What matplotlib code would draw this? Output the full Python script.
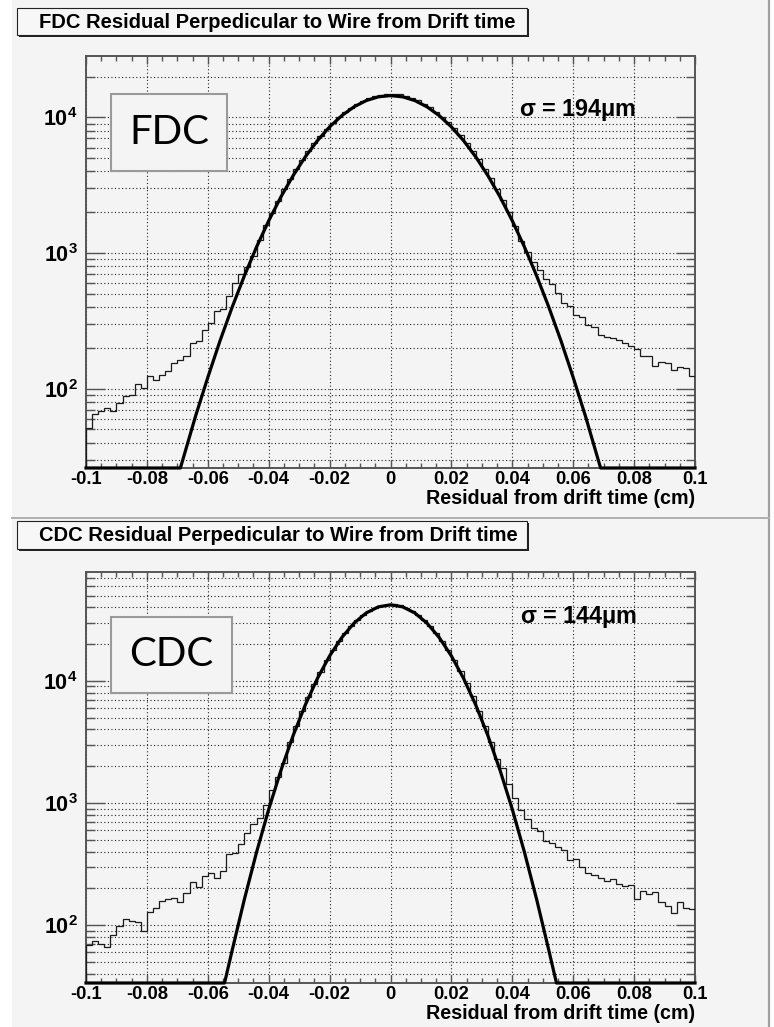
import matplotlib
matplotlib.use('Agg')
import matplotlib.pyplot as plt
from matplotlib.patches import Rectangle
from matplotlib.lines import Line2D
from matplotlib.ticker import LogLocator, MultipleLocator, NullFormatter, FuncFormatter
import numpy as np

plt.rcParams['font.family'] = ['Liberation Sans', 'DejaVu Sans']
plt.rcParams['mathtext.fontset'] = 'custom'
plt.rcParams['mathtext.rm'] = 'Liberation Sans:bold'
plt.rcParams['mathtext.bf'] = 'Liberation Sans:bold'
plt.rcParams['mathtext.it'] = 'Liberation Sans:bold'

######## DATA ########

x_ticks = [-0.1, -0.08, -0.06, -0.04, -0.02, 0.0, 0.02, 0.04, 0.06, 0.08, 0.1]
x_tick_labels = ['-0.1', '-0.08', '-0.06', '-0.04', '-0.02', '0',
                 '0.02', '0.04', '0.06', '0.08', '0.1']
x_label = 'Residual from drift time (cm)'

# 100 bins from -0.1 to 0.1 cm
fdc_counts = [
    51, 65, 68, 72, 68, 79, 88, 90, 108, 102,
    123, 116, 126, 134, 154, 163, 174, 218, 226, 271,
    303, 372, 385, 480, 600, 703, 786, 959, 1251, 1600,
    1990, 2430, 2950, 3520, 4170, 4880, 5650, 6480, 7360, 8250,
    9150, 10050, 10950, 11800, 12600, 13300, 13900, 14400, 14750, 14900,
    14950, 14800, 14450, 13950, 13350, 12650, 11850, 11000, 10100, 9200,
    8300, 7400, 6520, 5700, 4920, 4200, 3560, 2980, 2470, 2020,
    1596, 1237, 1014, 855, 751, 640, 590, 510, 430, 410,
    352, 336, 297, 284, 249, 242, 235, 229, 216, 208,
    196, 175, 175, 148, 156, 154, 137, 145, 142, 125]

fdc_fit_x = [-0.1, -0.069, -0.068, -0.064, -0.06, -0.056, -0.052, -0.048, -0.044, -0.04,
             -0.036, -0.032, -0.028, -0.024, -0.02, -0.016, -0.012, -0.008, -0.004, 0.0,
             0.004, 0.008, 0.012, 0.016, 0.02, 0.024, 0.028, 0.032, 0.036, 0.04,
             0.044, 0.048, 0.052, 0.056, 0.06, 0.064, 0.068, 0.069, 0.1]
fdc_fit_y = [26, 26, 31, 63, 121, 225, 399, 679, 1108, 1730,
             2592, 3720, 5117, 6746, 8523, 10320, 11975, 13318, 14195, 14500,
             14195, 13318, 11975, 10320, 8523, 6746, 5117, 3720, 2592, 1730,
             1108, 679, 399, 225, 121, 63, 31, 26, 26]

cdc_counts = [
    69, 74, 70, 66, 83, 98, 111, 108, 105, 90,
    127, 137, 157, 162, 165, 153, 184, 226, 204, 252,
    268, 243, 279, 382, 392, 461, 564, 673, 749, 963,
    1278, 1643, 2142, 3130, 4240, 5650, 7380, 9450, 11900, 14700,
    17800, 21150, 24650, 28200, 31600, 34800, 37600, 39800, 41400, 42200,
    42300, 41500, 39900, 37700, 34900, 31700, 28300, 24750, 21250, 17900,
    14800, 12000, 9550, 7450, 5720, 4300, 3180, 2300, 1924, 1430,
    1092, 876, 739, 620, 593, 491, 467, 439, 412, 341,
    345, 301, 268, 257, 241, 231, 238, 217, 210, 213,
    162, 191, 180, 188, 155, 143, 126, 155, 137, 135]

cdc_fit_x = [-0.1, -0.0545, -0.052, -0.048, -0.044, -0.04, -0.036, -0.032, -0.028, -0.024,
             -0.02, -0.016, -0.012, -0.008, -0.004, 0.0, 0.004, 0.008, 0.012, 0.016,
             0.02, 0.024, 0.028, 0.032, 0.036, 0.04, 0.044, 0.048, 0.052, 0.0545, 0.1]
cdc_fit_y = [33.5, 33.5, 62, 162, 394, 887, 1845, 3555, 6342, 10473,
             16008, 22656, 29681, 35994, 40411, 42000, 40411, 35994, 29681, 22656,
             16008, 10473, 6342, 3555, 1845, 887, 394, 162, 62, 33.5, 33.5]

#######################

W, H = 774, 1027
BG = '#f4f4f4'


def fx(px):
    return px / W


def fy(py):
    return 1 - py / H


fig = plt.figure(figsize=(W / 100, H / 100), dpi=100)
fig.patch.set_facecolor('white')

# canvas background and frame lines
fig.add_artist(Rectangle((fx(12), 0), fx(769) - fx(12), 1, transform=fig.transFigure,
                         facecolor=BG, edgecolor='none', zorder=-10))
fig.add_artist(Line2D([fx(769), fx(769)], [0, 1], transform=fig.transFigure,
                      color='#a0a0a0', lw=1.6))
fig.add_artist(Line2D([fx(12), fx(769)], [fy(518), fy(518)], transform=fig.transFigure,
                      color='#b0b0b0', lw=1.4))


def title_box(x0, x1, y0, y1, text):
    fig.add_artist(Rectangle((fx(x0 + 1.5), fy(y1 + 1.5)), fx(x1) - fx(x0), fy(y0) - fy(y1),
                             transform=fig.transFigure, facecolor='#222222',
                             edgecolor='none', zorder=1))
    fig.add_artist(Rectangle((fx(x0), fy(y1)), fx(x1) - fx(x0), fy(y0) - fy(y1),
                             transform=fig.transFigure, facecolor='#f7f7f7',
                             edgecolor='#222222', lw=0.8, zorder=2))
    fig.text(fx(39), fy((y0 + y1) / 2 + 0.5), text, fontsize=14.5, fontweight='bold',
             ha='left', va='center', zorder=3)


def tag_box(x0, x1, y0, y1, text):
    fig.add_artist(Rectangle((fx(x0), fy(y1)), fx(x1) - fx(x0), fy(y0) - fy(y1),
                             transform=fig.transFigure, facecolor=BG,
                             edgecolor='#9a9a9a', lw=1.5, zorder=5))
    fig.text(fx((x0 + x1) / 2), fy((y0 + y1) / 2), text, fontsize=29,
             family=['Lato', 'DejaVu Sans'], ha='center', va='center', zorder=6)


def panel(top, bottom, counts, fit_x, fit_y, ylim):
    ax = fig.add_axes([fx(86), fy(bottom), fx(695) - fx(86), fy(top) - fy(bottom)])
    ax.set_facecolor(BG)
    edges = np.linspace(-0.1, 0.1, len(counts) + 1)
    ax.stairs(counts, edges, color='#1a1a1a', lw=0.9, zorder=3)
    ax.plot(fit_x, fit_y, color='black', lw=2.3, zorder=4, clip_on=False,
            solid_joinstyle='round')

    ax.set_yscale('log')
    ax.set_xlim(-0.1, 0.1)
    ax.set_ylim(*ylim)

    ax.set_xticks(x_ticks)
    ax.set_xticklabels(x_tick_labels, fontsize=13.2, fontweight='bold')
    ax.xaxis.set_minor_locator(MultipleLocator(0.005))
    ax.yaxis.set_major_locator(LogLocator(base=10))
    ax.yaxis.set_minor_locator(LogLocator(base=10, subs=np.arange(2, 10)))
    ax.yaxis.set_minor_formatter(NullFormatter())
    ax.yaxis.set_major_formatter(FuncFormatter(
        lambda v, p: r'$\mathbf{10^{%d}}$' % int(round(np.log10(v)))))

    ax.tick_params(axis='both', which='both', direction='in', top=True, right=True,
                   color='#555555', width=1.0)
    ax.tick_params(axis='x', which='major', length=6, pad=2)
    ax.tick_params(axis='x', which='minor', length=3.5)
    ax.tick_params(axis='y', which='major', length=14, pad=6, labelsize=15.5)
    ax.tick_params(axis='y', which='minor', length=6.5)

    grid_kw = dict(color='#222222', lw=0.8, linestyle=(0, (1, 2.2)))
    ax.grid(True, which='major', axis='x', **grid_kw)
    ax.grid(True, which='both', axis='y', **grid_kw)
    ax.set_axisbelow(True)

    for s in ax.spines.values():
        s.set_color('#555555')
        s.set_linewidth(1.4)
    ax.annotate(x_label, xy=(1.0, 0.0), xycoords='axes fraction',
                xytext=(0, -22), textcoords='offset points',
                ha='right', va='center', fontsize=14.2, fontweight='bold')
    return ax


# top panel (FDC)
title_box(17, 527, 8, 35, 'FDC Residual Perpedicular to Wire from Drift time')
panel(56, 468, fdc_counts, fdc_fit_x, fdc_fit_y, (26, 28400))
tag_box(111, 227, 94, 171, 'FDC')
fig.text(fx(519), fy(110), r'$\sigma$ = 194$\mu$m', fontsize=16.8, fontweight='bold',
         ha='left', va='center', zorder=6)

# bottom panel (CDC)
title_box(17, 527, 521, 549, 'CDC Residual Perpedicular to Wire from Drift time')
panel(572, 983, cdc_counts, cdc_fit_x, cdc_fit_y, (33.5, 78000))
tag_box(111, 232, 617, 693, 'CDC')
fig.text(fx(520), fy(617), r'$\sigma$ = 144$\mu$m', fontsize=16.8, fontweight='bold',
         ha='left', va='center', zorder=6)

fig.savefig('out.png', dpi=100, facecolor=fig.get_facecolor())
